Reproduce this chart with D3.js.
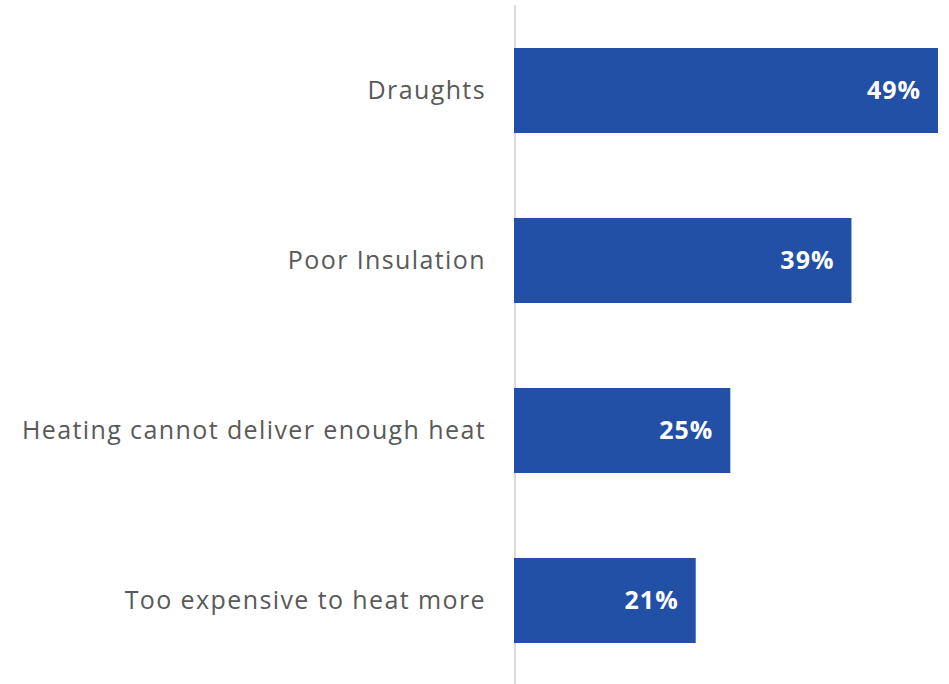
<!DOCTYPE html>
<html>
<head>
<meta charset="utf-8">
<script src="https://cdn.jsdelivr.net/npm/d3@7"></script>
<style>
body { margin: 0; background: #fff; }
</style>
</head>
<body>
<script>
var width = 949, height = 684;
var categories = ["Draughts", "Poor Insulation", "Heating cannot deliver enough heat", "Too expensive to heat more"];
var values = [49, 39, 25, 21];
var data = categories.map(function(c, i) { return {cat: c, val: values[i]}; });

var svg = d3.select("body").append("svg")
  .attr("width", width).attr("height", height);

var x = d3.scaleLinear().domain([0, 49]).range([514, 938]);
var y = d3.scaleBand().domain(categories).range([5.5, 685.5])
  .paddingInner(0.5).paddingOuter(0.25);

// axis line
svg.append("line")
  .attr("x1", 515).attr("x2", 515)
  .attr("y1", 5).attr("y2", height)
  .attr("stroke", "#d9d9d9").attr("stroke-width", 2);

svg.append("g").selectAll("rect").data(data).enter().append("rect")
  .attr("x", x(0))
  .attr("y", function(d) { return y(d.cat); })
  .attr("width", function(d) { return x(d.val) - x(0); })
  .attr("height", y.bandwidth())
  .attr("fill", "#2150a6");

svg.append("g").selectAll("text").data(data).enter().append("text")
  .attr("x", 486)
  .attr("y", function(d) { return y(d.cat) + y.bandwidth() / 2; })
  .attr("dy", "0.35em")
  .attr("text-anchor", "end")
  .style("font-family", "'Open Sans', sans-serif")
  .style("font-size", "25px")
  .style("letter-spacing", "1.4px")
  .style("fill", "#595959")
  .text(function(d) { return d.cat; });

svg.append("g").selectAll("text").data(data).enter().append("text")
  .attr("x", function(d) { return x(d.val) - 17; })
  .attr("y", function(d) { return y(d.cat) + y.bandwidth() / 2; })
  .attr("dy", "0.35em")
  .attr("text-anchor", "end")
  .style("font-family", "'Open Sans', sans-serif")
  .style("font-weight", "bold")
  .style("font-size", "25px")
  .style("letter-spacing", "1px")
  .style("fill", "#ffffff")
  .text(function(d) { return d.val + "%"; });
</script>
</body>
</html>
